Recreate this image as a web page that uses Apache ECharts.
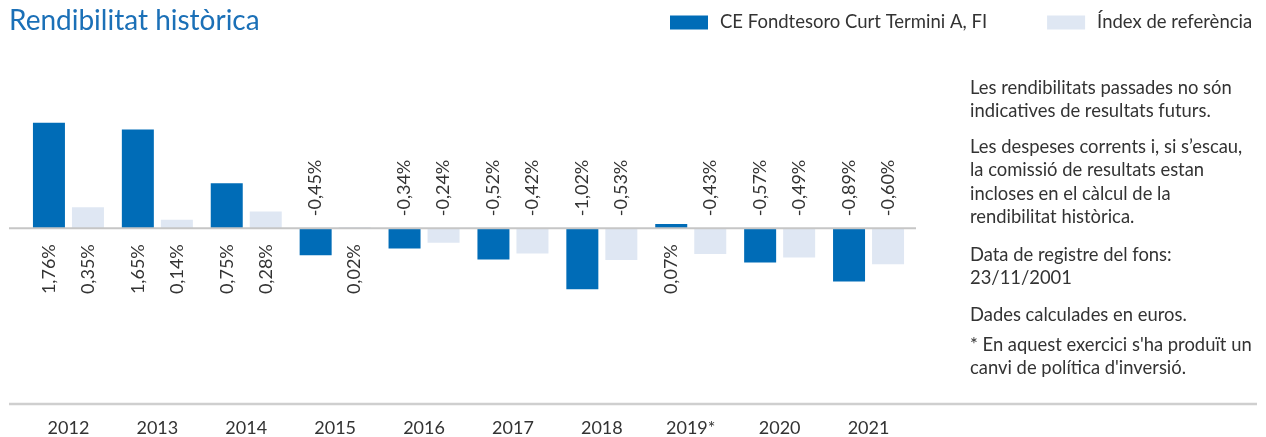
<!DOCTYPE html>
<html>
<head>
<meta charset="utf-8">
<script src="https://cdn.jsdelivr.net/npm/echarts@6/dist/echarts.min.js"></script>
<style>
  html, body { margin: 0; padding: 0; background: #fff; }
  #chart1 { width: 1266px; height: 437px; }
</style>
</head>
<body>
<div id="chart1"></div>
<script>
// data
const years = ['2012', '2013', '2014', '2015', '2016', '2017', '2018', '2019*', '2020', '2021'];
const fundReturns = [1.76, 1.65, 0.75, -0.45, -0.34, -0.52, -1.02, 0.07, -0.57, -0.89];
const indexReturns = [0.35, 0.14, 0.28, 0.02, -0.24, -0.42, -0.53, -0.43, -0.49, -0.60];
const seriesNames = ['CE Fondtesoro Curt Termini A, FI', 'Índex de referència'];
const notes = [
    'Les rendibilitats passades no són\nindicatives de resultats futurs.',
    'Les despeses corrents i, si s’escau,\nla comissió de resultats estan\nincloses en el càlcul de la\nrendibilitat històrica.',
    'Data de registre del fons:\n23/11/2001',
    'Dades calculades en euros.',
    "* En aquest exercici s'ha produït un\ncanvi de política d'inversió."
];

const font = 'Lato';
const textColor = '#333';

function pct(v) {
    return v.toFixed(2).replace('.', ',') + '%';
}

// label below the zero line for positive values, above it for negative ones
function barData(values) {
    return values.map(function (v) {
        let up = v < 0;
        return {
            value: v,
            label: {
                position: up ? 'top' : 'bottom',
                align: up ? 'left' : 'right',
                distance: up ? 12 : 16
            }
        };
    });
}

let dom1 = document.getElementById('chart1');
let Chart1 = echarts.init(dom1);

// notes on the right
let noteTops = [76, 135, 243, 303, 333];
let noteGraphics = notes.map(function (t, i) {
    return {
        type: 'text',
        left: 970,
        top: noteTops[i],
        style: {
            text: t,
            font: '18.4px ' + font,
            lineHeight: 23.5,
            fill: textColor
        }
    };
});

let barLabel = {
    show: true,
    rotate: 90,
    verticalAlign: 'middle',
    fontFamily: font,
    fontSize: 18,
    color: textColor,
    formatter: function (p) { return pct(p.value); }
};

let option1 = {
    animation: false,
    textStyle: { fontFamily: font },
    title: {
        text: 'Rendibilitat històrica',
        left: 4,
        top: 2,
        textStyle: {
            fontFamily: font,
            fontSize: 28,
            fontWeight: 'normal',
            color: '#1b70b7'
        }
    },
    legend: {
        left: 670,
        top: 13,
        padding: 0,
        icon: 'rect',
        itemWidth: 38,
        itemHeight: 14,
        itemGap: 60,
        textStyle: {
            fontFamily: font,
            fontSize: 18.5,
            color: textColor,
            padding: [0, 0, 0, 7]
        },
        data: seriesNames
    },
    grid: {
        left: 24,
        width: 889,
        top: 48.5,
        height: 360
    },
    xAxis: {
        type: 'category',
        data: years,
        axisLine: { show: false },
        axisTick: { show: false },
        axisLabel: {
            fontFamily: font,
            fontSize: 18,
            color: textColor,
            margin: 11
        }
    },
    yAxis: {
        type: 'value',
        min: -3,
        max: 3,
        show: false,
        splitLine: { show: false }
    },
    series: [
        {
            name: seriesNames[0],
            type: 'bar',
            barWidth: 32,
            barGap: '21.9%',
            itemStyle: { color: '#006cb7' },
            label: barLabel,
            data: barData(fundReturns)
        },
        {
            name: seriesNames[1],
            type: 'bar',
            barWidth: 32,
            itemStyle: { color: '#dfe7f3' },
            label: barLabel,
            data: barData(indexReturns)
        }
    ],
    graphic: noteGraphics
};

Chart1.setOption(option1);

// zero line and bottom rule
let zeroY = Chart1.convertToPixel({ yAxisIndex: 0 }, 0);
Chart1.setOption({
    graphic: noteGraphics.concat([
        {
            type: 'line',
            z: 10,
            shape: { x1: 9, y1: zeroY, x2: 916, y2: zeroY },
            style: { stroke: '#c6c6c6', lineWidth: 2 }
        },
        {
            type: 'line',
            shape: { x1: 9, y1: 404, x2: 1257, y2: 404 },
            style: { stroke: '#cfcfcf', lineWidth: 2.5 }
        }
    ])
});
</script>
</body>
</html>
